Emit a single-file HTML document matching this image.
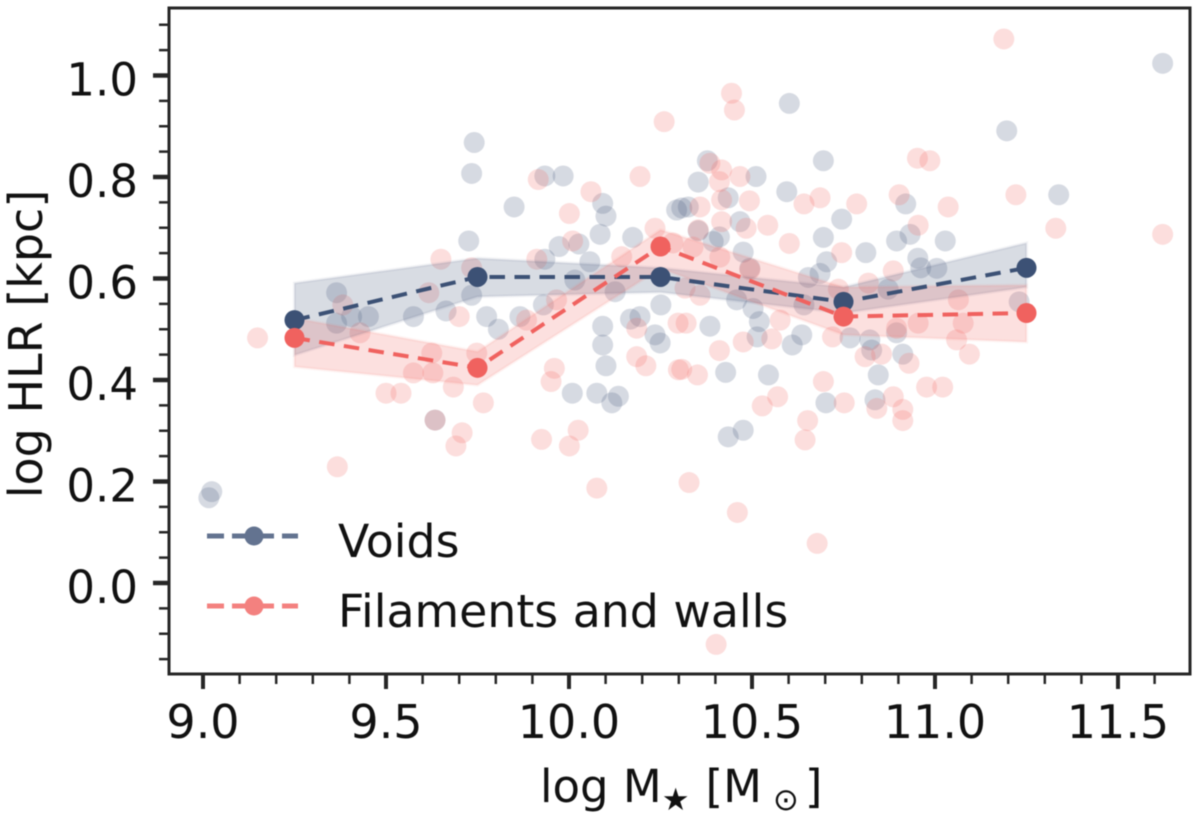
<!DOCTYPE html>
<html>
<head>
<meta charset="utf-8">
<title>log HLR vs log stellar mass</title>
<style>
html,body{margin:0;padding:0;background:#fff;width:1200px;height:823px;overflow:hidden}
svg{display:block}
text{font-family:"DejaVu Sans","Liberation Sans",sans-serif;fill:#111}
</style>
</head>
<body>
<svg id="chart" xmlns="http://www.w3.org/2000/svg" width="1200" height="823" viewBox="0 0 1200 823"></svg>
<script>
const xTickLabels = ['9.0','9.5','10.0','10.5','11.0','11.5'];
const yTickLabels = ['0.0','0.2','0.4','0.6','0.8','1.0'];
const xMinorTicks = [9.1,9.2,9.3,9.4,9.6,9.7,9.8,9.9,10.1,10.2,10.3,10.4,10.6,10.7,10.8,10.9,11.1,11.2,11.3,11.4,11.6];
const yMinorTicks = [-0.15,-0.1,-0.05,0.05,0.1,0.15,0.25,0.3,0.35,0.45,0.5,0.55,0.65,0.7,0.75,0.85,0.9,0.95,1.05,1.1];
const binCenters = [9.25,9.75,10.25,10.75,11.25];
const voidsMedian = [0.518,0.603,0.603,0.554,0.621];
const voidsUpper = [0.591,0.640,0.621,0.583,0.670];
const voidsLower = [0.449,0.564,0.573,0.532,0.583];
const filamentsMedian = [0.483,0.424,0.663,0.525,0.532];
const filamentsUpper = [0.522,0.456,0.696,0.583,0.587];
const filamentsLower = [0.426,0.390,0.620,0.489,0.475];
const voidsMass = [9.741,9.734,9.934,9.984,9.850,10.092,10.101,10.085,9.726,9.973,10.027,10.174,9.934,10.057,10.294,9.365,9.734,10.016,10.126,9.930,10.251,9.664,9.575,9.775,9.866,9.807,9.452,9.406,9.365,10.092,10.168,10.194,10.235,10.249,10.092,10.101,10.009,10.076,10.135,10.117,9.634,9.024,9.016,11.622,11.196,10.602,10.695,10.511,10.378,10.353,11.338,10.595,10.435,10.326,10.308,10.920,10.745,10.695,10.467,10.932,10.895,11.028,10.811,10.353,10.411,10.394,10.476,10.494,10.704,10.686,10.654,10.953,11.005,10.961,10.872,10.458,10.503,11.230,10.385,10.520,10.636,10.514,10.768,10.822,10.895,10.642,10.428,10.545,10.476,10.435,10.610,10.912,10.845,10.702,10.836,10.827];
const voidsHLR = [0.868,0.807,0.802,0.802,0.741,0.748,0.723,0.687,0.674,0.663,0.668,0.681,0.638,0.633,0.735,0.572,0.567,0.597,0.574,0.548,0.548,0.536,0.525,0.525,0.525,0.500,0.525,0.525,0.512,0.506,0.520,0.525,0.489,0.473,0.469,0.428,0.374,0.374,0.368,0.355,0.321,0.180,0.168,1.024,0.891,0.945,0.832,0.801,0.832,0.790,0.765,0.771,0.759,0.741,0.739,0.747,0.717,0.681,0.712,0.687,0.674,0.674,0.651,0.694,0.682,0.673,0.652,0.620,0.633,0.610,0.602,0.640,0.620,0.621,0.579,0.558,0.541,0.554,0.506,0.515,0.489,0.485,0.483,0.479,0.493,0.548,0.415,0.410,0.301,0.288,0.469,0.451,0.410,0.355,0.361,0.459];
const filamentsMass = [10.260,10.194,9.916,10.060,10.001,10.010,10.235,10.144,9.912,9.650,9.734,9.617,9.382,9.700,10.284,10.298,9.884,9.966,10.185,9.149,9.429,9.625,9.748,9.575,9.628,9.960,9.951,10.185,10.210,10.299,9.684,9.500,9.541,9.766,9.634,9.708,9.691,9.925,10.025,10.001,9.367,10.076,11.188,10.444,10.452,10.952,10.986,10.385,10.417,10.467,10.411,10.493,10.902,10.642,10.686,10.786,11.036,11.221,10.417,10.358,10.417,10.543,10.954,11.330,11.622,10.484,10.602,10.353,10.745,10.886,10.818,10.736,10.358,10.317,11.064,11.077,10.954,10.895,10.577,10.320,11.059,10.494,10.412,10.339,10.308,10.351,10.411,10.476,10.554,10.720,10.809,10.854,10.929,11.094,10.695,10.977,11.021,10.570,10.528,10.752,10.886,10.841,10.912,10.912,10.652,10.645,10.328,10.460,10.678,10.402];
const filamentsHLR = [0.909,0.801,0.795,0.771,0.728,0.674,0.699,0.643,0.638,0.638,0.621,0.572,0.548,0.525,0.670,0.512,0.518,0.558,0.502,0.483,0.493,0.453,0.453,0.414,0.414,0.423,0.397,0.446,0.428,0.420,0.386,0.374,0.374,0.355,0.321,0.296,0.270,0.283,0.301,0.270,0.229,0.187,1.072,0.965,0.932,0.837,0.832,0.827,0.814,0.801,0.791,0.753,0.765,0.747,0.759,0.747,0.741,0.765,0.755,0.741,0.712,0.705,0.705,0.699,0.687,0.699,0.669,0.696,0.651,0.615,0.591,0.579,0.567,0.581,0.558,0.512,0.512,0.502,0.518,0.512,0.479,0.617,0.642,0.662,0.421,0.410,0.458,0.475,0.481,0.485,0.446,0.451,0.433,0.451,0.397,0.386,0.386,0.367,0.349,0.355,0.367,0.344,0.342,0.320,0.320,0.282,0.198,0.139,0.078,-0.121];

const NS = 'http://www.w3.org/2000/svg';
const svg = document.getElementById('chart');
const VOID_COLOR = '#3c5175';
const FIL_COLOR = '#f0625f';
const box = {left:169, right:1190, top:8, bottom:674};
function xScale(v){ return 203 + (v - 9) * 366; }
function yScale(v){ return 583 - v * 507.5; }
function make(tag, attrs, parent){
  const el = document.createElementNS(NS, tag);
  for (const k in attrs) el.setAttribute(k, attrs[k]);
  (parent || svg).appendChild(el);
  return el;
}

const soft = make('g', {style:'filter:blur(0.55px)'});



function drawScatter(xs, ys, color, name){
  const g = make('g', {}, soft);
  
  
  xs.forEach(function(x, i){
    const c = make('circle', {cx:xScale(x), cy:yScale(ys[i]), r:10.5, fill:color, 'fill-opacity':0.21}, g);
    
    
  });
}
drawScatter(voidsMass, voidsHLR, VOID_COLOR, 'voids-scatter');
drawScatter(filamentsMass, filamentsHLR, FIL_COLOR, 'filaments-scatter');

function drawBand(upper, lower, color, name){
  const pts = binCenters.map(function(x, i){ return xScale(x) + ',' + yScale(upper[i]); })
    .concat(binCenters.slice().reverse().map(function(x, i){ return xScale(x) + ',' + yScale(lower[lower.length - 1 - i]); }));
  const p = make('polygon', {points:pts.join(' '), fill:color, 'fill-opacity':0.2, stroke:color, 'stroke-opacity':0.08, 'stroke-width':3}, soft);
  
  
}
drawBand(voidsUpper, voidsLower, VOID_COLOR, 'voids-band');
drawBand(filamentsUpper, filamentsLower, FIL_COLOR, 'filaments-band');

function drawLine(values, color, name){
  const pts = binCenters.map(function(x, i){ return xScale(x) + ',' + yScale(values[i]); }).join(' ');
  const l = make('polyline', {points:pts, fill:'none', stroke:color, 'stroke-width':4, 'stroke-dasharray':'15.5 9.5'}, soft);
  
  
  binCenters.forEach(function(x, i){
    const c = make('circle', {cx:xScale(x), cy:yScale(values[i]), r:10, fill:color}, soft);
    
    
  });
}
drawLine(voidsMedian, VOID_COLOR, 'voids-median');
drawLine(filamentsMedian, FIL_COLOR, 'filaments-median');

const axes = make('g', {style:'filter:blur(0.4px)'});



const frame = make('rect', {x:box.left, y:box.top, width:box.right-box.left, height:box.bottom-box.top, fill:'none', stroke:'#262626', 'stroke-width':3}, axes);



xTickLabels.forEach(function(lab){
  const v = parseFloat(lab);
  const t = make('line', {x1:xScale(v), x2:xScale(v), y1:box.bottom, y2:box.bottom+15, stroke:'#262626', 'stroke-width':4}, axes);
  
  
  const s = make('text', {x:xScale(v), y:738, 'text-anchor':'middle', 'font-size':46}, axes);
  s.textContent = lab;
  
  
});
xMinorTicks.forEach(function(v){
  const t = make('line', {x1:xScale(v), x2:xScale(v), y1:box.bottom, y2:box.bottom+10, stroke:'#262626', 'stroke-width':2.5}, axes);
  
  
});
yTickLabels.forEach(function(lab){
  const v = parseFloat(lab);
  const t = make('line', {x1:box.left-16, x2:box.left, y1:yScale(v), y2:yScale(v), stroke:'#262626', 'stroke-width':4.5}, axes);
  
  
  const s = make('text', {x:138, y:yScale(v)+20, 'text-anchor':'end', 'font-size':45}, axes);
  s.textContent = lab;
  
  
});
yMinorTicks.forEach(function(v){
  const t = make('line', {x1:box.left-10, x2:box.left, y1:yScale(v), y2:yScale(v), stroke:'#262626', 'stroke-width':2.5}, axes);
  
  
});

const yTitle = make('text', {x:0, y:0, transform:'translate(42,344) rotate(-90)', 'text-anchor':'middle', 'font-size':46}, axes);
yTitle.textContent = 'log HLR [kpc]';



const xTitle = make('text', {x:540, y:802, 'font-size':45}, axes);


const p1 = make('tspan', {}, xTitle); p1.textContent = 'log M';
const p2 = make('tspan', {dy:8, 'font-size':31}, xTitle); p2.textContent = '★';
const p3 = make('tspan', {dy:-8, dx:16}, xTitle); p3.textContent = '[M';
const p4 = make('tspan', {dy:8, dx:11, 'font-size':31}, xTitle); p4.textContent = '⊙';
const p5 = make('tspan', {dy:-8, dx:6}, xTitle); p5.textContent = ']';

function drawLegendEntry(y, color, label, name){
  const g = make('g', {style:'opacity:0.8'}, axes);
  
  
  make('line', {x1:207, x2:298, y1:y, y2:y, stroke:color, 'stroke-width':5, 'stroke-dasharray':'17 8'}, g);
  make('circle', {cx:254, cy:y, r:9.5, fill:color}, g);
  const t = make('text', {x:338, y:y+21, 'font-size':45.8}, axes);
  t.textContent = label;
  
  
}
drawLegendEntry(536, VOID_COLOR, 'Voids', 'voids');
drawLegendEntry(606, FIL_COLOR, 'Filaments and walls', 'filaments');
</script>
</body>
</html>
